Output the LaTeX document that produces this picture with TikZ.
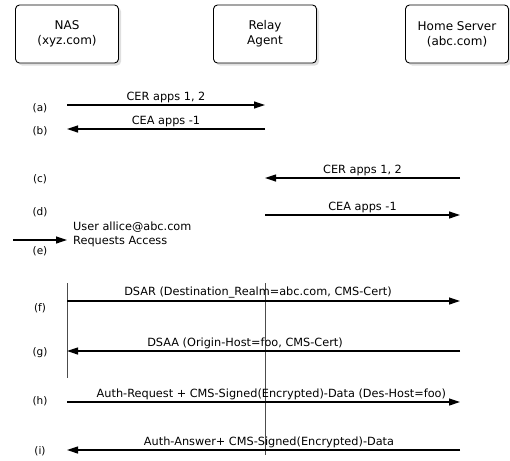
\documentclass[tikz,border=0pt]{standalone}
\usepackage{fontspec}
\setmainfont{DejaVu Sans}
\usetikzlibrary{arrows.meta,shadows}
\tikzset{
  entity/.style={draw=black, line width=0.9pt, rounded corners=4pt, minimum width=103pt, minimum height=58pt,
    align=center, fill=white, font=\fontsize{12}{15}\selectfont,
    drop shadow={shadow xshift=2.5pt, shadow yshift=-2.5pt, fill=black!25}},
  msg/.style={line width=1.2pt, -{Triangle[length=11pt,width=7pt]}},
  lifeline/.style={very thin, black!70},
  rowlabel/.style={font=\fontsize{10.5}{12}\selectfont},
  msglabel/.style={font=\fontsize{11.3}{14}\selectfont, inner sep=2pt}
}
\begin{document}
\begin{tikzpicture}[x=1pt, y=-1pt]
\useasboundingbox (0,0) rectangle (510,460);
\node[entity] (NAS) at (67,34) {NAS\\(xyz.com)};
\node[entity] (Relay) at (265,34) {Relay\\Agent};
\node[entity] (Home) at (457,34) {Home Server\\(abc.com)};
\coordinate (N_top) at (67,283);
\coordinate (N_bot) at (67,378);
\coordinate (A_top) at (265,283);
\coordinate (A_bot) at (265,455);
\draw[lifeline] (N_top) -- (N_bot);
\draw[lifeline] (A_top) -- (A_bot);
\node[rowlabel] (L_a) at (40,108) {(a)};
\coordinate (N_a) at (67,105);
\coordinate (A_a) at (265,105);
\draw[msg] (N_a) -- (A_a) node[midway, above, msglabel] {CER apps 1, 2};
\node[rowlabel] (L_b) at (40,131) {(b)};
\coordinate (N_b) at (67,129);
\coordinate (A_b) at (265,129);
\draw[msg] (A_b) -- (N_b) node[midway, above, msglabel] {CEA apps -1};
\node[rowlabel] (L_c) at (40,179) {(c)};
\coordinate (A_c) at (265,178);
\coordinate (H_c) at (460,178);
\draw[msg] (H_c) -- (A_c) node[midway, above, msglabel] {CER apps 1, 2};
\node[rowlabel] (L_d) at (40,212) {(d)};
\coordinate (A_d) at (265,215);
\coordinate (H_d) at (460,215);
\draw[msg] (A_d) -- (H_d) node[midway, above, msglabel] {CEA apps -1};
\node[rowlabel] (L_e) at (40,251) {(e)};
\coordinate (U_e) at (13,240);
\coordinate (N_e) at (67,240);
\draw[msg] (U_e) -- (N_e);
\node[msglabel, anchor=west, align=left] (User) at (71,234) {User allice@abc.com\\Requests Access};
\node[rowlabel] (L_f) at (40,308) {(f)};
\coordinate (N_f) at (67,301);
\coordinate (H_f) at (460,301);
\draw[msg] (N_f) -- (H_f) node[pos=0.486, above, msglabel] {DSAR (Destination\_Realm=abc.com, CMS-Cert)};
\node[rowlabel] (L_g) at (40,353) {(g)};
\coordinate (N_g) at (67,351);
\coordinate (H_g) at (460,351);
\draw[msg] (H_g) -- (N_g) node[pos=0.547, above, msglabel] {DSAA (Origin-Host=foo, CMS-Cert)};
\node[rowlabel] (L_h) at (40,401) {(h)};
\coordinate (N_h) at (67,402);
\coordinate (H_h) at (460,402);
\draw[msg] (N_h) -- (H_h) node[pos=0.52, above, msglabel] {Auth-Request + CMS-Signed(Encrypted)-Data (Des-Host=foo)};
\node[rowlabel] (L_i) at (40,451) {(i)};
\coordinate (N_i) at (67,450);
\coordinate (H_i) at (460,450);
\draw[msg] (H_i) -- (N_i) node[pos=0.486, above, msglabel] {Auth-Answer+ CMS-Signed(Encrypted)-Data};
\end{tikzpicture}
\end{document}
